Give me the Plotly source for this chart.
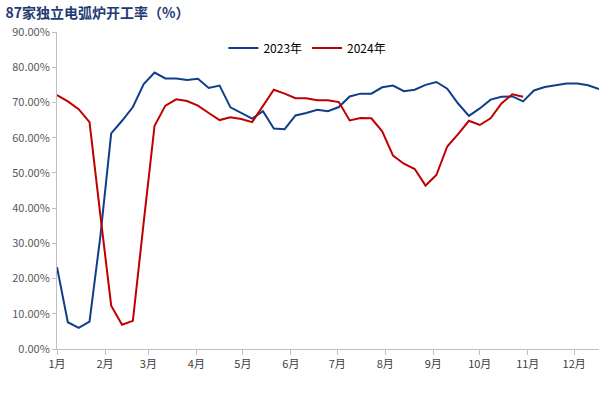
import pandas as pd
import plotly.graph_objects as go

title = "87家独立电弧炉开工率（%）"
series_names = ["2023年", "2024年"]
month_labels = ["1月", "2月", "3月", "4月", "5月", "6月", "7月", "8月", "9月", "10月", "11月", "12月"]

rate_2023 = [23.2, 7.6, 6.0, 7.8, 32.0, 61.2, 64.8, 68.7, 75.2, 78.5,
             76.8, 76.8, 76.4, 76.7, 74.1, 74.8, 68.6, 66.9, 65.4, 67.5,
             62.6, 62.4, 66.3, 67.0, 67.9, 67.5, 68.7, 71.7, 72.5, 72.5,
             74.3, 74.8, 73.2, 73.6, 75.0, 75.8, 73.9, 69.7, 66.2, 68.3,
             70.8, 71.6, 71.7, 70.3, 73.4, 74.4, 74.9, 75.4, 75.4, 74.9,
             73.8]
rate_2024 = [72.1, 70.3, 68.1, 64.4, 38.0, 12.3, 6.9, 8.0, 36.0, 63.4,
             69.1, 70.9, 70.4, 69.1, 67.0, 65.0, 65.8, 65.3, 64.4, 68.9,
             73.6, 72.5, 71.2, 71.2, 70.6, 70.6, 70.1, 64.9, 65.6, 65.5,
             61.8, 54.9, 52.6, 51.1, 46.4, 49.4, 57.5, 61.0, 64.8, 63.6,
             65.5, 69.7, 72.3, 71.6]

weeks = pd.date_range("2023-01-01", periods=len(rate_2023), freq="7D")
month_starts = pd.date_range("2023-01-01", periods=12, freq="MS")

fig = go.Figure()
fig.add_trace(go.Scatter(x=weeks, y=rate_2023, mode="lines", name=series_names[0],
                         line=dict(color="#0F3F8A", width=2)))
fig.add_trace(go.Scatter(x=weeks[:len(rate_2024)], y=rate_2024, mode="lines", name=series_names[1],
                         line=dict(color="#C00000", width=2)))

fig.update_layout(
    width=613, height=397,
    margin=dict(l=57, r=14, t=32, b=48, autoexpand=False),
    paper_bgcolor="white", plot_bgcolor="white",
    font=dict(family="Noto Sans CJK SC, Liberation Sans, sans-serif", size=11, color="#404040"),
    title=dict(text="<b>" + title + "</b>", x=0.009, xanchor="left", y=0.98, yanchor="top",
               font=dict(size=14, color="#1F3B73", family="Noto Sans CJK SC")),
    legend=dict(orientation="h", x=0.462, xanchor="center", y=0.995, yanchor="top",
                font=dict(size=12, color="#000000"), bgcolor="rgba(0,0,0,0)",
                itemwidth=30, tracegroupgap=0),
    showlegend=True,
)
fig.update_xaxes(
    type="date", range=[weeks[0], weeks[-1]],
    tickvals=month_starts, ticktext=month_labels,
    showline=True, linecolor="#BFBFBF", linewidth=1,
    ticks="outside", tickcolor="#BFBFBF", ticklen=5,
    showgrid=False, zeroline=False, automargin=False,
    tickfont=dict(size=11, color="#404040"),
)
fig.update_yaxes(
    range=[0, 90], tickvals=list(range(0, 91, 10)),
    ticktext=[f"{v:.2f}%" for v in range(0, 91, 10)],
    showline=True, linecolor="#BFBFBF", linewidth=1,
    ticks="outside", tickcolor="#BFBFBF", ticklen=4,
    showgrid=False, zeroline=False, automargin=False,
    tickfont=dict(size=11, color="#595959"),
)

fig.write_html("out.html", config={"displayModeBar": False},
               post_script="document.body.style.margin='0';document.body.style.padding='0';")
